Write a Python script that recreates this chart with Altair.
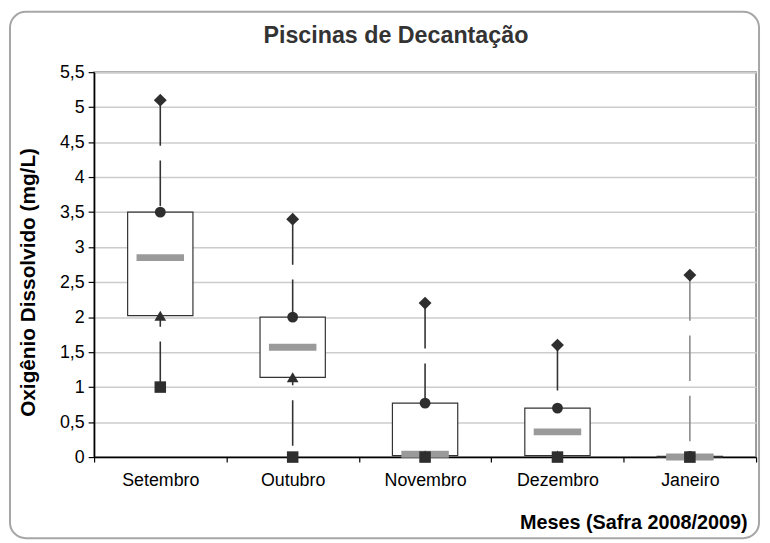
import altair as alt
import pandas as pd

meses = ["Setembro", "Outubro", "Novembro", "Dezembro", "Janeiro"]
maximo = [5.1, 3.4, 2.2, 1.6, 2.6]
q3 = [3.5, 2.0, 0.77, 0.7, 0.01]
mediana = [2.85, 1.57, 0.04, 0.36, 0.0]
q1 = [2.02, 1.14, 0.02, 0.02, 0.0]
minimo = [1.0, 0.0, 0.0, 0.0, 0.0]
cor_haste = ["#333333", "#333333", "#333333", "#333333", "#8c8c8c"]

y_ticks = [0, 0.5, 1, 1.5, 2, 2.5, 3, 3.5, 4, 4.5, 5, 5.5]

df = pd.DataFrame({
    "mes": meses, "max": maximo, "q3": q3, "med": mediana,
    "q1": q1, "min": minimo, "cor": cor_haste,
})

FONT = "Liberation Sans"
W, H = 669, 389

x_axis = alt.Axis(
    title="Meses (Safra 2008/2009)", labelAngle=0, tickBand="extent",
    domainColor="#000", domainWidth=1.5, tickColor="#000", tickSize=5,
    tickWidth=1.2, labelFont=FONT, labelFontSize=18, labelColor="#000",
    labelPadding=10, titleFont=FONT, titleFontSize=20, titleFontWeight="bold",
    titleColor="#000", titleAlign="right", titleX=660, titleY=72,
    titleBaseline="alphabetic", grid=False,
)
x_scale = alt.Scale(paddingInner=0, paddingOuter=0)
y_scale = alt.Scale(domain=[0, 5.5], nice=False, zero=True)
y_axis = alt.Axis(
    title="Oxigênio Dissolvido (mg/L)", values=y_ticks, tickCount=12,
    labelExpr="replace(format(datum.value, '~g'), '.', ',')",
    labelOverlap=False,
    domainColor="#000", domainWidth=1.5, tickColor="#000", tickSize=6,
    tickWidth=1.2, labelFont=FONT, labelFontSize=18, labelColor="#000",
    labelPadding=4, titleFont=FONT, titleFontSize=21, titleFontWeight="bold",
    titleColor="#000", titleX=-60, titleY=212, titleAngle=-90,
    titleBaseline="alphabetic", titleAlign="center",
    grid=True, gridColor="#cccccc", gridWidth=1.5,
)


def X():
    return alt.X("mes:N", sort=meses, scale=x_scale, axis=x_axis)


def Y(campo):
    return alt.Y(f"{campo}:Q", scale=y_scale, axis=y_axis)


base = alt.Chart(df)

haste = base.mark_rule(strokeWidth=1.6, strokeDash=[46, 15]).encode(
    x=X(), y=Y("max"), y2="min:Q",
    color=alt.Color("cor:N", scale=None),
)

caixa = base.mark_bar(size=66, fill="white", stroke="#333333", strokeWidth=1.2).encode(
    x=X(), y=Y("q1"), y2="q3:Q",
)

med = base.mark_tick(size=48, thickness=7, color="#9a9a9a", opacity=1).encode(
    x=X(), y=Y("med"),
)


def pontos(campo, forma, tam):
    return base.mark_point(shape=forma, size=tam, filled=True, color="#2e2e2e", opacity=1).encode(
        x=X(), y=Y(campo),
    )


p_q3 = pontos("q3", "circle", 120)
p_q1 = pontos("q1", "triangle-up", 140)
p_max = pontos("max", "diamond", 170)
p_min = pontos("min", "square", 135)

uma = alt.Chart(pd.DataFrame({"a": [0]}))
moldura = uma.mark_rect(
    fill="transparent", stroke="#a6a6a6", strokeWidth=2, cornerRadius=16
).encode(
    x=alt.value(-85), x2=alt.value(672), y=alt.value(-61), y2=alt.value(471)
)
titulo = uma.mark_text(
    text="Piscinas de Decantação", font=FONT, fontSize=23.5, fontWeight="bold",
    color="#333333", align="center", baseline="alphabetic",
).encode(x=alt.value(305), y=alt.value(-29))

chart = alt.layer(
    haste, caixa, med, p_q3, p_q1, p_max, p_min, moldura, titulo
).properties(
    width=W, height=H,
    autosize=alt.AutoSizeParams(type="none"),
    padding={"left": 87, "top": 62, "right": 6, "bottom": 84},
    background="white",
).configure_view(stroke="#999999", strokeWidth=2)

chart.save("out.html", embed_options={"renderer": "svg", "actions": False})
